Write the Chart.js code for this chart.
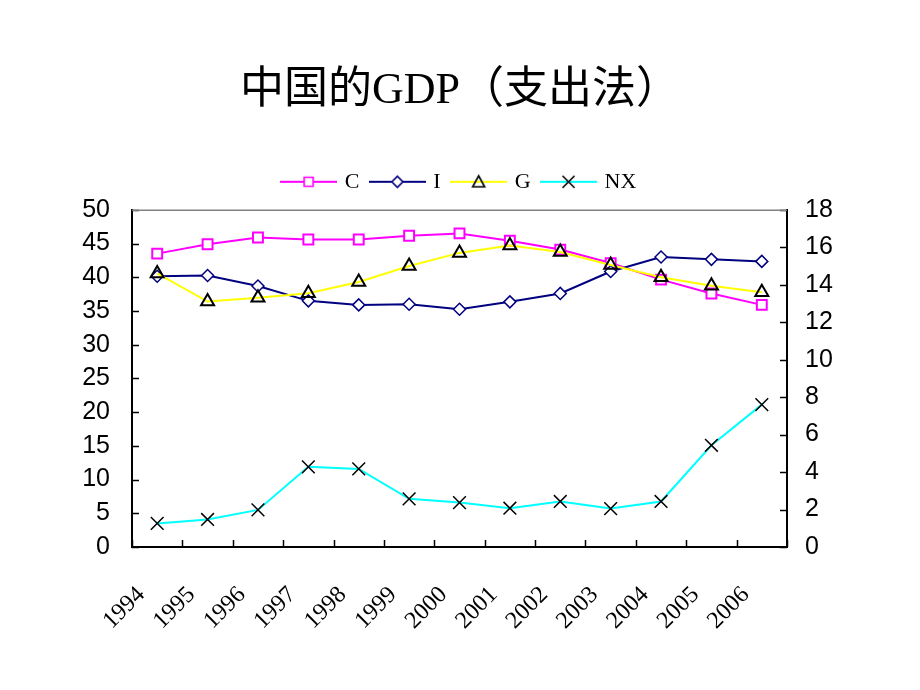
<!DOCTYPE html>
<html>
<head>
<meta charset="utf-8">
<title>中国的GDP（支出法）</title>
<script src="https://cdn.jsdelivr.net/npm/chart.js@4/dist/chart.umd.min.js"></script>
<style>
    html, body { margin: 0; background: #fff; }
</style>
</head>
<body>
<canvas id="gdpChart" width="920" height="690"></canvas>
<script>
// values (% of GDP); C and I on the left axis, G and NX on the right one
const years = ['1994', '1995', '1996', '1997', '1998', '1999', '2000', '2001', '2002', '2003', '2004', '2005', '2006'];
const consumption = [43.5, 44.9, 45.9, 45.6, 45.6, 46.15, 46.5, 45.4, 44.1, 42.1, 39.65, 37.6, 35.9];
const investment = [40.15, 40.25, 38.7, 36.5, 35.9, 36.0, 35.25, 36.35, 37.6, 40.85, 43.0, 42.65, 42.35];
const government = [14.6, 13.1, 13.3, 13.55, 14.15, 15.0, 15.7, 16.1, 15.75, 15.05, 14.4, 13.95, 13.6];
const netExports = [1.26, 1.47, 1.98, 4.28, 4.17, 2.57, 2.37, 2.07, 2.43, 2.05, 2.43, 5.43, 7.6];

const leftAxis = { min: 0, max: 50, step: 5 };
const rightAxis = { min: 0, max: 18, step: 2 };

// small line+marker swatch for the legend
function legendIcon(lineColor, marker, markerColor, fill) {
    const c = document.createElement('canvas');
    c.width = 57;
    c.height = 20;
    const ctx = c.getContext('2d');
    ctx.strokeStyle = lineColor;
    ctx.lineWidth = 2;
    ctx.beginPath();
    ctx.moveTo(0, 10);
    ctx.lineTo(57, 10);
    ctx.stroke();
    const x = 28.5, y = 10;
    ctx.strokeStyle = markerColor;
    ctx.fillStyle = fill;
    ctx.lineWidth = 1.6;
    ctx.beginPath();
    if (marker === 'rect') {
        ctx.rect(x - 4.5, y - 4.5, 9, 9);
    } else if (marker === 'rectRot') {
        ctx.moveTo(x - 5.5, y); ctx.lineTo(x, y - 5.5); ctx.lineTo(x + 5.5, y); ctx.lineTo(x, y + 5.5); ctx.closePath();
    } else if (marker === 'triangle') {
        ctx.moveTo(x, y - 6); ctx.lineTo(x + 6, y + 5); ctx.lineTo(x - 6, y + 5); ctx.closePath();
    } else {
        ctx.moveTo(x - 6, y - 6); ctx.lineTo(x + 6, y + 6); ctx.moveTo(x + 6, y - 6); ctx.lineTo(x - 6, y + 6);
    }
    if (fill !== 'transparent') ctx.fill();
    ctx.stroke();
    return c;
}

const legendIcons = [
    legendIcon('#ff00ff', 'rect', '#ff00ff', '#ffffff'),
    legendIcon('#000080', 'rectRot', '#000080', '#ffffff'),
    legendIcon('#ffff00', 'triangle', '#000000', 'transparent'),
    legendIcon('#00ffff', 'crossRot', '#000000', 'transparent')
];

// legend box is made a bit taller so the plot starts where the slide's does
const legendSpace = {
    id: 'legendSpace',
    beforeLayout(chart) {
        const lg = chart.legend;
        if (!lg || lg._spaced) return;
        const fit = lg.fit.bind(lg);
        lg.fit = function() {
            fit();
            this.height = 52;
        };
        lg._spaced = true;
    }
};

// Excel style: tick marks point into the plot, grey frame on top
const innerTicks = {
    id: 'innerTicks',
    afterDraw(chart) {
        const { ctx, chartArea } = chart;
        const len = 7;
        ctx.save();
        ctx.strokeStyle = '#000';
        ctx.lineWidth = 1.5;
        ctx.beginPath();
        const y = chart.scales.y;
        y.ticks.forEach(t => {
            const py = Math.round(y.getPixelForValue(t.value)) + 0.5;
            ctx.moveTo(chartArea.left, py);
            ctx.lineTo(chartArea.left + len, py);
        });
        const y1 = chart.scales.y1;
        y1.ticks.forEach(t => {
            const py = Math.round(y1.getPixelForValue(t.value)) + 0.5;
            ctx.moveTo(chartArea.right - len, py);
            ctx.lineTo(chartArea.right, py);
        });
        const x = chart.scales.x;
        const step = x.getPixelForValue(1) - x.getPixelForValue(0);
        for (let i = 0; i <= years.length; i++) {
            const px = Math.round(x.getPixelForValue(i) - step / 2) + 0.5;
            ctx.moveTo(px, chartArea.bottom);
            ctx.lineTo(px, chartArea.bottom - len);
        }
        ctx.stroke();
        ctx.strokeStyle = '#808080';
        ctx.beginPath();
        ctx.moveTo(chartArea.left, chartArea.top + 0.5);
        ctx.lineTo(chartArea.right, chartArea.top + 0.5);
        ctx.stroke();
        ctx.restore();
    }
};

new Chart(document.getElementById('gdpChart').getContext('2d'), {
    type: 'line',
    data: {
        labels: years,
        datasets: [
            {
                label: 'C',
                data: consumption,
                yAxisID: 'y',
                borderColor: '#ff00ff',
                borderWidth: 2,
                pointStyle: 'rect',
                pointRadius: 7,
                pointBorderColor: '#ff00ff',
                pointBackgroundColor: '#ffffff',
                pointBorderWidth: 2,
                order: 3
            },
            {
                label: 'I',
                data: investment,
                yAxisID: 'y',
                borderColor: '#000080',
                borderWidth: 2,
                pointStyle: 'rectRot',
                pointRadius: 6,
                pointBorderColor: '#000080',
                pointBackgroundColor: '#ffffff',
                pointBorderWidth: 1.5,
                order: 2
            },
            {
                label: 'G',
                data: government,
                yAxisID: 'y1',
                borderColor: '#ffff00',
                borderWidth: 2,
                pointStyle: 'triangle',
                pointRadius: 7.5,
                pointBorderColor: '#000000',
                pointBackgroundColor: 'rgba(0,0,0,0)',
                pointBorderWidth: 2,
                order: 1
            },
            {
                label: 'NX',
                data: netExports,
                yAxisID: 'y1',
                borderColor: '#00ffff',
                borderWidth: 2,
                pointStyle: 'crossRot',
                pointRadius: 9,
                pointBorderColor: '#000000',
                pointBorderWidth: 1.5,
                order: 0
            }
        ]
    },
    options: {
        responsive: false,
        animation: false,
        layout: { padding: 0 },
        plugins: {
            title: {
                display: true,
                text: '中国的GDP（支出法）',
                color: '#000',
                font: { family: '"Liberation Serif", "Noto Sans CJK SC"', size: 44, weight: 'normal' },
                padding: { top: 65, bottom: 40 }
            },
            legend: {
                position: 'top',
                labels: {
                    color: '#000',
                    usePointStyle: true,
                    pointStyleWidth: 50,
                    padding: 13,
                    font: { family: '"Liberation Serif"', size: 22 },
                    sort: (a, b) => a.datasetIndex - b.datasetIndex,
                    generateLabels(chart) {
                        const items = Chart.defaults.plugins.legend.labels.generateLabels(chart);
                        items.forEach(it => { it.pointStyle = legendIcons[it.datasetIndex]; });
                        return items;
                    }
                }
            },
            tooltip: { enabled: false }
        },
        scales: {
            x: {
                type: 'category',
                offset: true,
                grid: { display: false, drawTicks: false },
                border: { color: '#000', width: 2 },
                ticks: {
                    color: '#000',
                    font: { family: '"Liberation Serif"', size: 24 },
                    minRotation: 45,
                    maxRotation: 45,
                    autoSkip: false,
                    padding: 34,
                    labelOffset: -16
                },
                afterFit: s => { s.height = 143; }
            },
            y: {
                position: 'left',
                min: leftAxis.min,
                max: leftAxis.max,
                grid: { display: false, drawTicks: false },
                border: { color: '#000', width: 2 },
                ticks: {
                    stepSize: leftAxis.step,
                    color: '#000',
                    font: { family: '"Liberation Sans"', size: 25 },
                    padding: 22
                },
                afterFit: s => { s.width = 132; }
            },
            y1: {
                position: 'right',
                min: rightAxis.min,
                max: rightAxis.max,
                grid: { display: false, drawTicks: false },
                border: { color: '#000', width: 2 },
                ticks: {
                    stepSize: rightAxis.step,
                    color: '#000',
                    font: { family: '"Liberation Sans"', size: 25 },
                    padding: 18
                },
                afterFit: s => { s.width = 133; }
            }
        },
        elements: { line: { tension: 0, fill: false } }
    },
    plugins: [legendSpace, innerTicks]
});
</script>
</body>
</html>
